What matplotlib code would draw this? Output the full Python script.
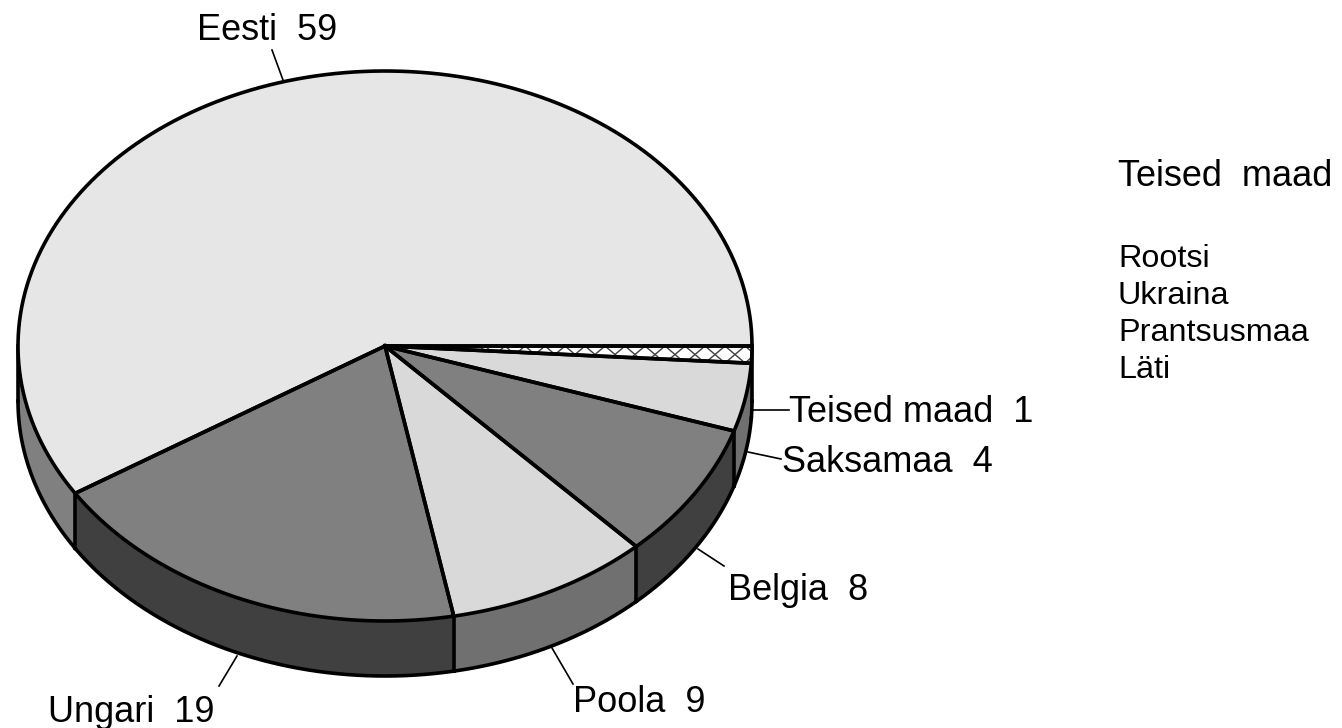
import numpy as np
import matplotlib
matplotlib.use('Agg')
import matplotlib.pyplot as plt

# values clockwise from 3 o'clock
labels = ['Teised maad', 'Saksamaa', 'Belgia', 'Poola', 'Ungari', 'Eesti']
values = [1, 4, 8, 9, 19, 59]
others = ['Rootsi', 'Ukraina', 'Prantsusmaa', 'Läti']

top_colors = ['white', '#d9d9d9', '#808080', '#d9d9d9', '#808080', '#e6e6e6']
side_colors = ['#707070', '#707070', '#404040', '#707070', '#404040', '#808080']

# label text position and leader line, in pixels
label_pos = [(789, 413), (782, 463), (728, 591), (573, 703), (48, 713), (197, 31)]
leaders = [((752, 410), (789, 410)), ((748, 452), (781, 459)), ((698, 549), (724, 566)),
           ((552, 648), (573, 684)), ((237, 656), (219, 686)), ((283, 80), (272, 50))]

cx, cy = 385, 346
rx, ry = 367, 275
depth = 55

plt.rcParams['font.family'] = ['Liberation Sans', 'DejaVu Sans']

fig = plt.figure(figsize=(13.42, 7.28), dpi=100)
ax = fig.add_axes([0, 0, 1, 1])
ax.set_xlim(0, 1342)
ax.set_ylim(728, 0)
ax.axis('off')


def arc(a0, a1):
    t = np.radians(np.linspace(a0, a1, max(int(abs(a1 - a0) * 2), 2)))
    return cx + rx * np.cos(t), cy + ry * np.sin(t)


edges = np.concatenate([[0], np.cumsum(values) * 360 / sum(values)])

# side wall first, only the front half shows
for i in range(len(values)):
    a0, a1 = edges[i], min(edges[i + 1], 180)
    if a0 >= 180:
        continue
    x, y = arc(a0, a1)
    px = np.concatenate([x, x[::-1]])
    py = np.concatenate([y, y[::-1] + depth])
    ax.fill(px, py, facecolor=side_colors[i], edgecolor='none', zorder=1)
    ax.plot(x, y + depth, color='black', lw=2.6, zorder=3)
    if i > 0 and side_colors[i] != side_colors[i - 1]:
        ax.plot([x[0], x[0]], [y[0], y[0] + depth], color='black', lw=2.6, zorder=3)

# closing edges of the wall at 0 and 180 degrees
for a in (0, 180):
    x, y = arc(a, a + 0.01)
    ax.plot([x[0], x[0]], [y[0], y[0] + depth], color='black', lw=2.6, zorder=3)

# top face
for i in range(len(values)):
    x, y = arc(edges[i], edges[i + 1])
    px = np.concatenate([[cx], x, [cx]])
    py = np.concatenate([[cy], y, [cy]])
    poly = ax.fill(px, py, facecolor=top_colors[i], edgecolor='none', zorder=4)[0]
    if labels[i] == 'Teised maad':
        # crosses by hand, the built in hatch is too sparse in such a thin slice
        for x0 in np.arange(cx, cx + rx, 20):
            for sign in (1, -1):
                hatch, = ax.plot([x0, x0 + 20], [cy + 8.5 - sign * 8.5, cy + 8.5 + sign * 8.5],
                                 color='#404040', lw=1, zorder=4.5)
                hatch.set_clip_path(poly)
    ax.plot(px, py, color='black', lw=2.6, zorder=5, solid_joinstyle='round')

for i, name in enumerate(labels):
    (x0, y0), (x1, y1) = leaders[i]
    ax.plot([x0, x1], [y0, y1], color='black', lw=1.2, zorder=2)
    ax.text(label_pos[i][0], label_pos[i][1], f'{name}  {values[i]}', fontsize=26,
            ha='left', va='center', color='black')

ax.text(1118, 176, 'Teised  maad', fontsize=26, ha='left', va='center', color='black')
for i, name in enumerate(others):
    ax.text(1118, 259 + i * 37, name, fontsize=23.3, ha='left', va='center', color='black')

fig.savefig('out.png', dpi=100)
